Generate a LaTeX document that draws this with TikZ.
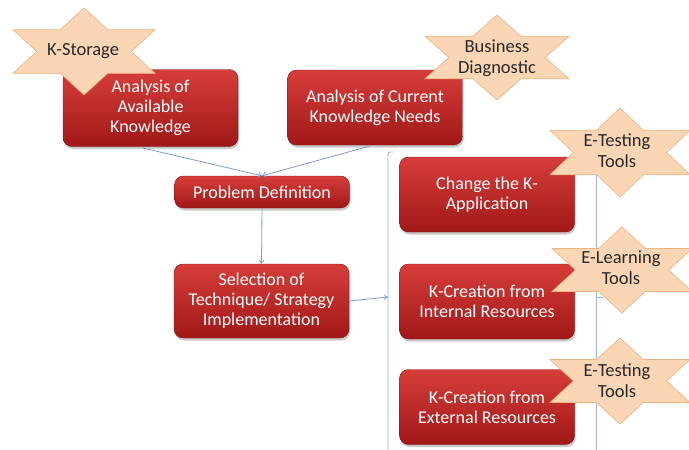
\documentclass[tikz,border=0pt]{standalone}
\usepackage{fontspec}
\setmainfont{Carlito}
\usetikzlibrary{shadows,arrows.meta}
\definecolor{boxtop}{RGB}{214,62,58}
\definecolor{boxbot}{RGB}{160,24,24}
\definecolor{starfill}{RGB}{251,214,181}
\definecolor{stardraw}{RGB}{236,178,128}
\definecolor{linkc}{RGB}{128,156,204}
\definecolor{startext}{RGB}{40,40,40}
\newcommand{\hexstar}[4]{%
  \draw[starshape, shift={(#1,#2)}, xscale=#3/1.732, yscale=#4/2]
    (0,-1) -- (0.2887,-0.5) -- (0.866,-0.5) -- (0.5774,0) -- (0.866,0.5) -- (0.2887,0.5)
    -- (0,1) -- (-0.2887,0.5) -- (-0.866,0.5) -- (-0.5774,0) -- (-0.866,-0.5) -- (-0.2887,-0.5) -- cycle;}
\tikzset{
  redbox/.style={rounded corners=9pt, top color=boxtop, bottom color=boxbot, draw=boxbot!80!black, line width=0.4pt,
    minimum width=175pt, align=center, text=white, font=\fontsize{18}{20}\selectfont, inner sep=1pt,
    drop shadow={shadow xshift=1pt, shadow yshift=-2.5pt, opacity=0.35, fill=black!60}},
  starshape/.style={fill=starfill, draw=stardraw, line width=0.6pt, line join=miter},
  startxt/.style={align=center, text=startext, font=\fontsize{18.5}{21}\selectfont, inner sep=1pt},
  link/.style={draw=linkc, line width=0.8pt, -{To[length=4pt,width=6pt]}},
  brack/.style={draw=linkc!75, line width=0.9pt}
}
\begin{document}
\begin{tikzpicture}[x=1pt,y=-1pt]
\clip (0,0) rectangle (689,450);
\fill[white] (0,0) rectangle (689,450);
% boxes
\node[redbox, minimum height=77pt] (avail) at (150.5,108) {Analysis of\\Available\\Knowledge};
\node[redbox, minimum height=75pt] (current) at (375,107.5) {Analysis of Current\\Knowledge Needs};
\node[redbox, minimum height=32pt] (probdef) at (262,192) {Problem Definition};
\node[redbox, minimum height=74pt] (select) at (261.5,301) {Selection of\\Technique/ Strategy\\Implementation};
\node[redbox, minimum height=75pt] (change) at (487,194.5) {Change the K-\\Application};
\node[redbox, minimum height=75pt] (internal) at (487,301.5) {K-Creation from\\Internal Resources};
\node[redbox, minimum height=75pt] (external) at (487,407) {K-Creation from\\External Resources};
% bracket lines
\coordinate (bl) at (388,297);
\draw[brack] (393,152) -- (390,152) to[out=180,in=90] (388,155) -- (388,450);
\draw[brack] (596,152) -- (596,450);
\draw[brack] (596,297) -- (603,297);
% connectors
\draw[link] (143,148) -- (probdef.north);
\draw[link] (370,146) -- (probdef.north);
\draw[link] (probdef.south) -- (select.north);
\draw[link] (select.east) -- (bl);
% stars
\hexstar{84}{51.5}{142}{87}
\node[startxt] (kstorage) at (83,51) {K-Storage};
\hexstar{497}{57.5}{144}{85}
\node[startxt] (busdiag) at (497,58) {Business\\Diagnostic};
\hexstar{620}{152.5}{140}{89}
\node[startxt] (etest1) at (617,151) {E-Testing\\Tools};
\hexstar{622}{270}{140}{86}
\node[startxt] (elearn) at (621,268) {E-Learning\\Tools};
\hexstar{620}{381}{140}{86}
\node[startxt] (etest2) at (617,381) {E-Testing\\Tools};
\end{tikzpicture}
\end{document}
